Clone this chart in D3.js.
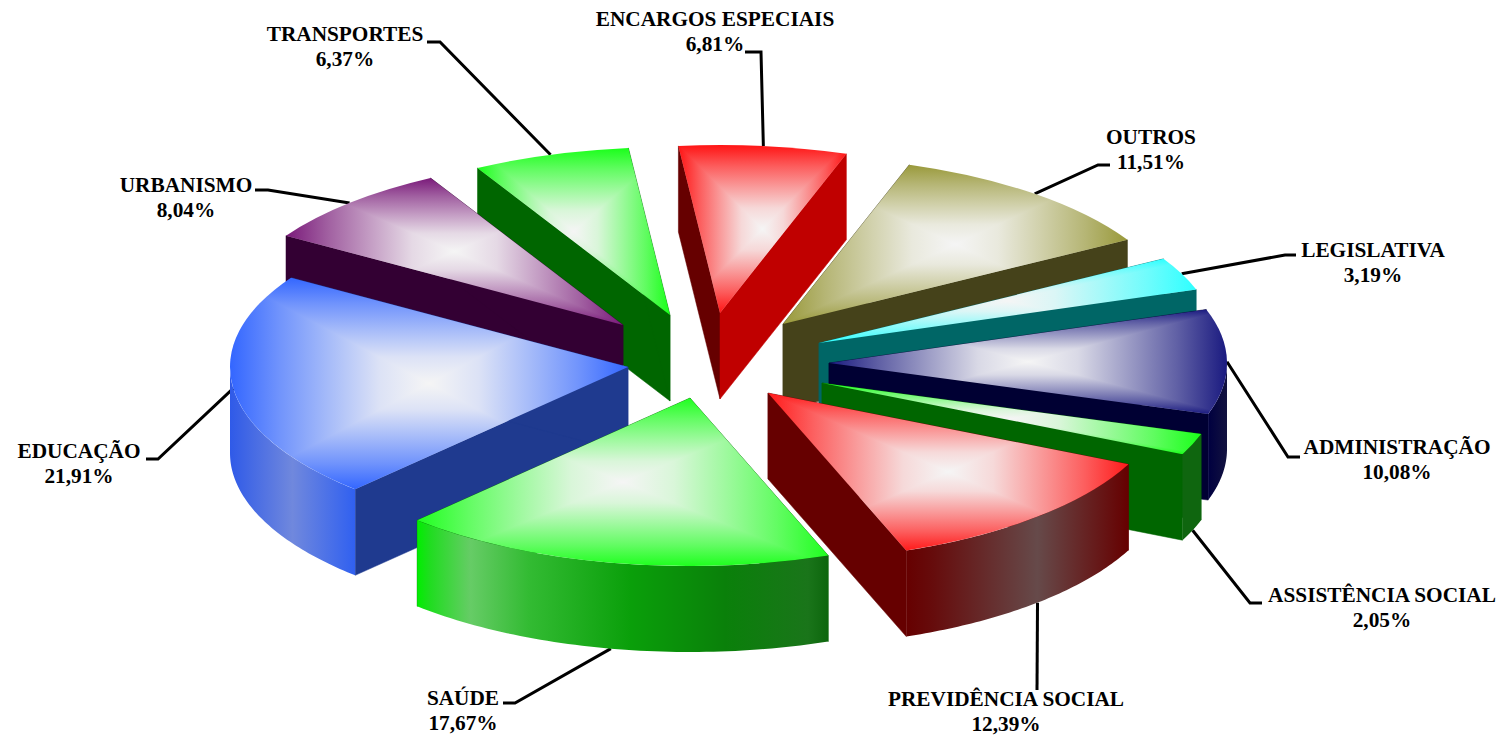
<!DOCTYPE html>
<html><head><meta charset="utf-8">
<script src="https://cdnjs.cloudflare.com/ajax/libs/d3/7.8.5/d3.min.js"></script>
<style>html,body{margin:0;padding:0;background:#fff;overflow:hidden}svg{display:block}
text{font-family:"Liberation Serif","Times New Roman",serif;font-weight:700;font-size:21.3px;fill:#000;text-anchor:middle}</style>
</head><body><svg id="c" width="1501" height="738"></svg>
<script>
// --- data ---
const categories=["ENCARGOS ESPECIAIS","OUTROS","LEGISLATIVA","ADMINISTRAÇÃO","ASSISTÊNCIA SOCIAL","PREVIDÊNCIA SOCIAL","SAÚDE","EDUCAÇÃO","URBANISMO","TRANSPORTES"];
const values=[6.81,11.51,3.19,10.08,2.05,12.39,17.67,21.91,8.04,6.37];
const valueLabels=["6,81%","11,51%","3,19%","10,08%","2,05%","12,39%","17,67%","21,91%","8,04%","6,37%"];
// --- styles ---
const topColors=["#ff1414","#99993a","#2dffff","#1a1a80","#1aff1a","#ff1a1a","#1fff1f","#3366ff","#7a1a7a","#1aff1a"];
const startWall=["#660000","#45421a","#006666","#000033","#006600","#660000","#006600","#1f3a8f","#330033","#006600"];
const endWall=["#c00000","#45421a","#006666","#000033","#006600","#660000","#006600","#1f3a8f","#330033","#006600"];
const outerStops=[
 null,null,null,
 [[0,"#000040"],[1,"#12123f"]],
 [[0,"#0f660f"],[1,"#0f660f"]],
 [[0,"#660000"],[.12,"#660c0c"],[.59,"#664a4a"],[1,"#660000"]],
 [[0,"#00ee00"],[.03,"#1fdd1f"],[.13,"#66cc66"],[.27,"#33bb33"],[.52,"#0a9f0a"],[.75,"#0a800a"],[.95,"#1a751a"],[1,"#0d660d"]],
 [[0,"#2f5ae8"],[.5,"#7088dd"],[1,"#3060f0"]],
 null,null];
const centerColor="#f5f5f5";
const faceRamp=[[0,0],[.25,.32],[.5,.6],[.75,.87],[1,1]];
// --- layout ---
const rx=398, ry=168, depth=86;
const startDeg=-6;
const apexX=[720,783,819,829,822,768,690,628,623,670];
const apexY=[313,324,343,363,383,393,398,367,325,315];
const paintOrder=[0,9,8,1,2,3,4,5,7,6];
const labelX=[715,1151,1373,1397,1382,1006,463,79,186,345];
const labelY=[26,144,257,454,602,706,705,458,192,41];
const elbowX=[761,1098,1285,1288,1250,1037,515,158,268,440];
const elbowY=[52,165,255,457,603,690,703,459,190,42];
const leaderEndX=[745,1110,1296,1300,1262,1037,503,146,255,427];
const fromWallBottom=[0,0,0,0,1,1,1,0,0,0];

const svg=d3.select("#c"), defs=svg.append("defs");
const rad=d=>d*Math.PI/180;
const pie=d3.pie().sort(null).startAngle(rad(startDeg)).endAngle(rad(startDeg+360));
const arcs=pie(values);
const sx=d3.scaleLinear().domain([-1,1]).range([-rx,rx]);
const sy=d3.scaleLinear().domain([-1,1]).range([-ry,ry]);
const arcGen=d3.arc().innerRadius(0).outerRadius(rx);
const pt=(i,a,dy=0)=>[apexX[i]+sx(Math.sin(a)),apexY[i]-sy(Math.cos(a))+dy];

// leaders
const lineGen=d3.line();
const lg=svg.append("g").attr("fill","none").attr("stroke","#000").attr("stroke-width",3);
arcs.forEach((d,i)=>{
  const mid=(d.startAngle+d.endAngle)/2;
  const s=pt(i,mid,fromWallBottom[i]?depth:0);
  lg.append("path").attr("d",lineGen([s,[elbowX[i],elbowY[i]],[leaderEndX[i],elbowY[i]]]));
});

// slices
paintOrder.forEach(i=>{
  const d=arcs[i], g=svg.append("g");
  const a0=d.startAngle,a1=d.endAngle,ap=[apexX[i],apexY[i]];
  const s=pt(i,a0),e=pt(i,a1);
  const wall=(p,c)=>g.append("path").attr("fill",c).attr("stroke",c).attr("stroke-width",.5)
    .attr("d",lineGen([ap,p,[p[0],p[1]+depth],[ap[0],ap[1]+depth]])+"Z");
  wall(s,startWall[i]); wall(e,endWall[i]);
  // outer wall: only the front-facing part of the rim
  const f0=Math.max(a0,rad(90)),f1=Math.min(a1,rad(270));
  if(f1>f0&&outerStops[i]){
    const n=60,as=d3.range(n+1).map(k=>f0+(f1-f0)*k/n);
    const up=as.map(a=>pt(i,a)),dn=as.map(a=>pt(i,a,depth)).reverse();
    const xs=up.map(p=>p[0]);
    const gid="w"+i;
    const lin=defs.append("linearGradient").attr("id",gid).attr("gradientUnits","userSpaceOnUse")
      .attr("x1",d3.min(xs)).attr("x2",d3.max(xs)).attr("y1",0).attr("y2",0);
    outerStops[i].forEach(st=>lin.append("stop").attr("offset",st[0]).attr("stop-color",st[1]));
    g.append("path").attr("fill",`url(#${gid})`).attr("d",lineGen(up.concat(dn))+"Z");
  }
  // top face: rectangular "from centre" gradient on the face's box
  const n=80,pts=[ap].concat(d3.range(n+1).map(k=>pt(i,a0+(a1-a0)*k/n)));
  const x0=d3.min(pts,p=>p[0]),x1=d3.max(pts,p=>p[0]),y0=d3.min(pts,p=>p[1]),y1=d3.max(pts,p=>p[1]);
  const cx=(x0+x1)/2,cy=(y0+y1)/2;
  const cid="c"+i;
  defs.append("clipPath").attr("id",cid).append("path")
    .attr("transform",`translate(${ap[0]},${ap[1]}) scale(1,${ry/rx})`).attr("d",arcGen(d));
  const t=g.append("g").attr("clip-path",`url(#${cid})`);
  const mix=d3.interpolateRgb(topColors[i],centerColor);
  [[x0,y0,x1,y0],[x1,y0,x1,y1],[x1,y1,x0,y1],[x0,y1,x0,y0]].forEach((q,k)=>{
    const gid=`t${i}_${k}`;
    const horiz=k%2===1;
    const lin=defs.append("linearGradient").attr("id",gid).attr("gradientUnits","userSpaceOnUse")
      .attr("x1",horiz?q[0]:cx).attr("y1",horiz?cy:q[1]).attr("x2",cx).attr("y2",cy);
    faceRamp.forEach(r=>lin.append("stop").attr("offset",r[0]).attr("stop-color",mix(r[1])));
    t.append("path").attr("fill",`url(#${gid})`).attr("shape-rendering","crispEdges")
      .attr("d",lineGen([[q[0],q[1]],[q[2],q[3]],[cx,cy]])+"Z");
  });
});

// labels
categories.forEach((c,i)=>{
  const t=svg.append("text").attr("x",labelX[i]).attr("y",labelY[i]);
  t.append("tspan").attr("x",labelX[i]).text(c);
  t.append("tspan").attr("x",labelX[i]).attr("dy",25).text(valueLabels[i]);
});
</script></body></html>
